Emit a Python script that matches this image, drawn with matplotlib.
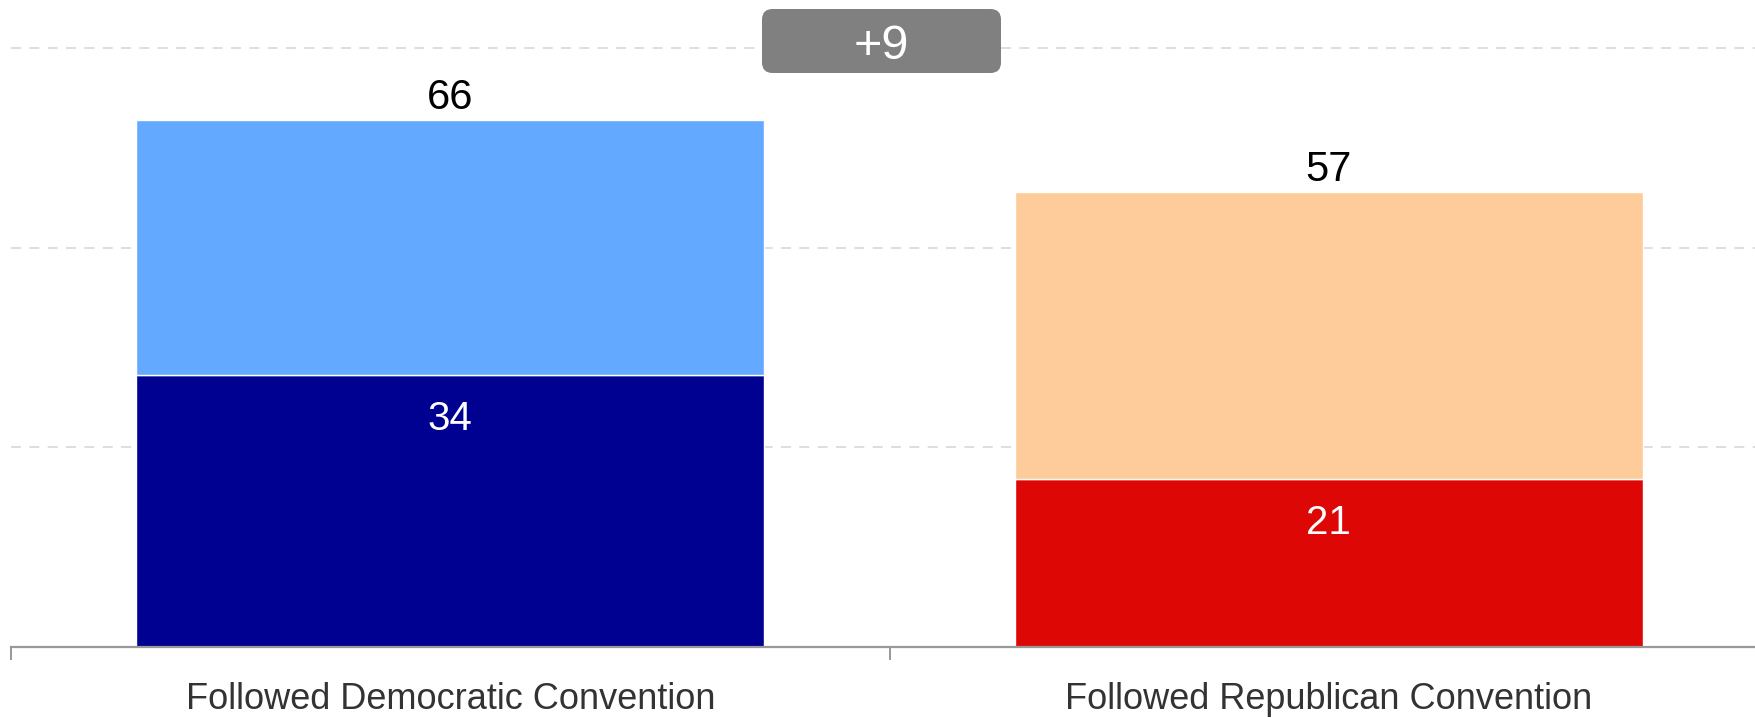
import matplotlib
matplotlib.use("Agg")
import matplotlib.pyplot as plt
from matplotlib.patches import FancyBboxPatch

plt.rcParams['font.family'] = ['Liberation Sans', 'DejaVu Sans']

categories = ["Followed Democratic Convention", "Followed Republican Convention"]
base_values = [34, 21]
total_values = [66, 57]
base_colors = ["#000091", "#DD0806"]
top_colors = ["#62A9FF", "#FECC9A"]
diff_label = "+9"
grid_values = [25, 50, 75]

W, H = 1755, 718
base_px = 647
left_px = 11
fig = plt.figure(figsize=(W / 100, H / 100), dpi=100)
ax = fig.add_axes([left_px / W, (H - base_px) / H, 1 - left_px / W, base_px / H])
XL = (-0.5, 1.485)
ax.set_xlim(*XL)
ax.set_ylim(0, 81.0)
for s in ax.spines.values():
    s.set_visible(False)
ax.set_xticks([])
ax.set_yticks([])

# gridlines
for g in grid_values:
    ax.plot(XL, [g, g], color="#d8d8d8", lw=1.2,
            dashes=(6, 5), zorder=0, solid_capstyle='butt')

x = list(range(len(categories)))
bw = 0.715
tops = [t - b for t, b in zip(total_values, base_values)]
ax.bar(x, base_values, width=bw, color=base_colors, edgecolor="white", linewidth=1, zorder=2)
ax.bar(x, tops, bottom=base_values, width=bw, color=top_colors, edgecolor="white", linewidth=1, zorder=2)

for xi, b, t in zip(x, base_values, total_values):
    ax.annotate(str(t), (xi, t), xytext=(0, 7.5), textcoords="offset points",
                ha="center", va="baseline", fontsize=30, color="black")
    ax.annotate(str(b), (xi, b), xytext=(0, -39.5), textcoords="offset points",
                ha="center", va="baseline", fontsize=29, color="white")

# baseline axis
ax.plot(XL, [0, 0], color="#999999", lw=1.6, zorder=3, clip_on=False)
for tx in [XL[0], 0.5]:
    ax.plot([tx, tx], [0, 0], marker=[(0, 0), (0, -1)], markersize=18,
            color="#999999", mew=1.4, clip_on=False)

for xi, c in zip(x, categories):
    ax.annotate(c, (xi, 0), xytext=(0, -44.5), textcoords="offset points",
                ha="center", va="baseline", fontsize=26, color="#333333",
                annotation_clip=False)

# difference box
bx0, bx1, by0, by1 = 762 / W, 1001 / W, 1 - 73 / H, 1 - 9 / H
box = FancyBboxPatch((bx0, by0), bx1 - bx0, by1 - by0,
                     boxstyle="round,pad=0,rounding_size=0.006",
                     transform=fig.transFigure, facecolor="#808080", edgecolor="none",
                     zorder=5, mutation_aspect=W / H)
fig.patches.append(box)
fig.text((bx0 + bx1) / 2, 1 - 59 / H, diff_label, ha="center", va="baseline",
         fontsize=35, color="white", zorder=6)

fig.savefig("out.png", dpi=100, facecolor="white")
